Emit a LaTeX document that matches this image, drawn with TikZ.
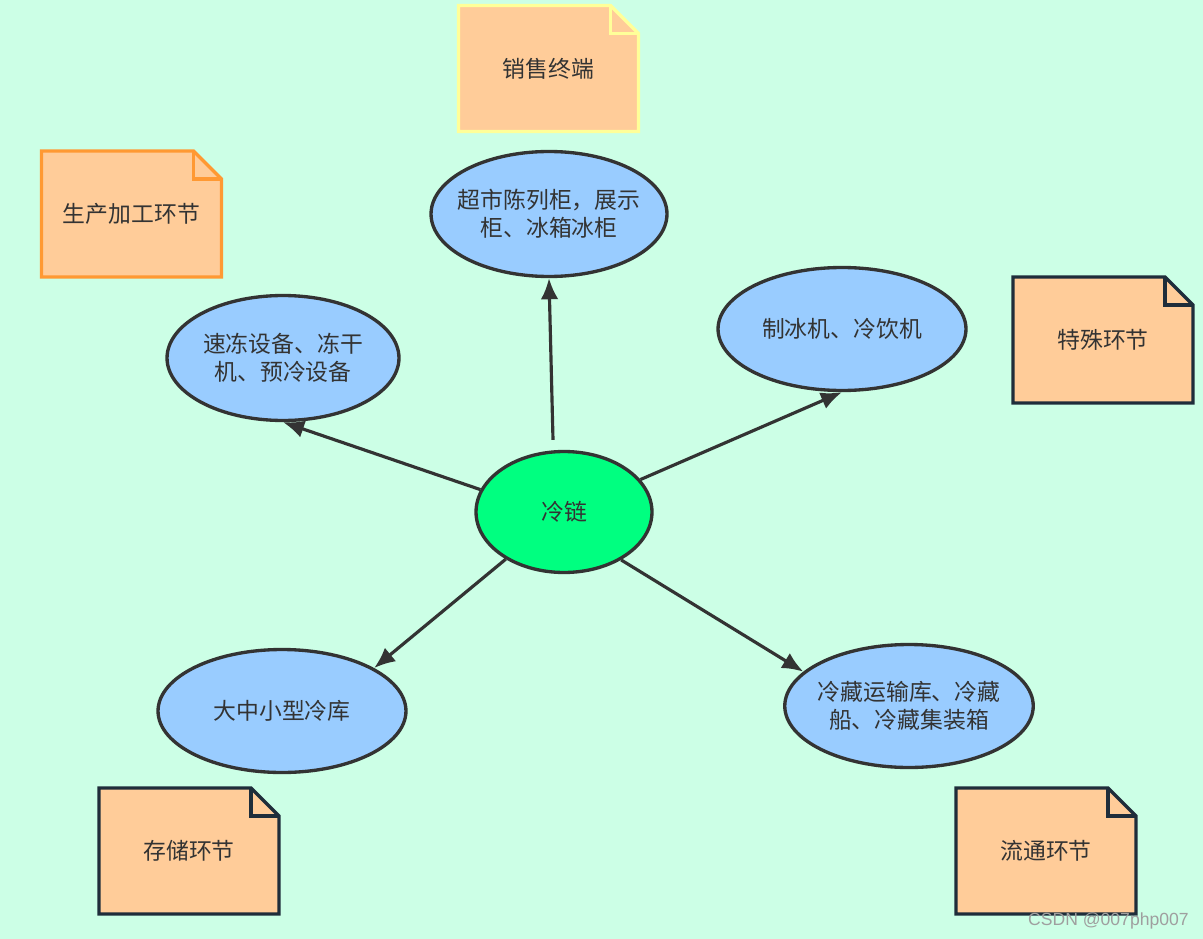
\documentclass[tikz,border=0pt]{standalone}
\usepackage{fontspec}
\newfontfamily\cjk{Noto Sans CJK SC}
\newfontfamily\wmfont{Liberation Sans}
\usetikzlibrary{shapes.geometric,arrows.meta}
\definecolor{bgc}{HTML}{CCFFE6}
\definecolor{ink}{HTML}{333333}
\definecolor{blueF}{HTML}{99CCFF}
\definecolor{greenF}{HTML}{00FF80}
\definecolor{noteF}{HTML}{FFCC99}
\definecolor{noteY}{HTML}{FFFF99}
\definecolor{noteO}{HTML}{FF9933}
\definecolor{noteD}{HTML}{1F2D3A}
\tikzset{
  txt/.style={text=ink, align=center, font=\cjk\fontsize{13}{16}\selectfont},
  bub/.style={ellipse, draw=ink, line width=1.9pt, fill=blueF, inner sep=0pt, txt,
    minimum width=4.96cm, minimum height=2.46cm},
  hub/.style={bub, fill=greenF, minimum width=3.52cm, minimum height=2.42cm},
  arr/.style={draw=ink, line width=1.8pt, -{Latex[length=12pt,width=10pt]}},
  notebox/.style={txt, inner sep=0pt, minimum width=3.6cm, minimum height=2.52cm},
}
\newcommand\mynote[5]{% name, x, y, colour, text
  \draw[line width=1.9pt, draw=#4, fill=noteF, line join=miter]
    (#2,#3) ++(-90,-63) -- ++(0,126) -- ++(180,0) -- ++(0,-98) -- ++(-28,-28) -- cycle;
  \draw[line width=1.9pt, draw=#4, line join=miter]
    (#2,#3) ++(62,-63) -- ++(0,28) -- ++(28,0);
  \node[notebox] (#1) at (#2,#3) {#5};
}
\begin{document}
\begin{tikzpicture}[x=0.02cm, y=-0.02cm]
  \fill[bgc] (0,0) rectangle (1203,939);
  \useasboundingbox (0,0) rectangle (1203,939);

  \mynote{nSale}{548.5}{68.5}{noteY}{销售终端}
  \mynote{nProd}{131.5}{214}{noteO}{生产加工环节}
  \mynote{nSpec}{1103}{340}{noteD}{特殊环节}
  \mynote{nStor}{189}{851}{noteD}{存储环节}
  \mynote{nCirc}{1046}{851}{noteD}{流通环节}

  \node[hub] (c) at (564,512) {冷链};
  \node[bub, inner xsep=-5pt, minimum width=4.72cm, minimum height=2.5cm] (t1) at (549,214) {超市陈列柜，展示\\柜、冰箱冰柜};
  \node[bub] (t2) at (842,329) {制冰机、冷饮机};
  \node[bub, minimum width=4.64cm, minimum height=2.5cm] (t3) at (283,358) {速冻设备、冻干\\机、预冷设备};
  \node[bub] (t4) at (282,711) {大中小型冷库};
  \node[bub, inner xsep=-2pt] (t5) at (909,706) {冷藏运输库、冷藏\\船、冷藏集装箱};

  \draw[arr] ([shift={(-11,-10)}]c.north) -- (t1.south);
  \draw[arr] (c.23) -- (t2.south);
  \draw[arr] (c.165) -- (t3.south);
  \draw[arr] (c.219) -- (t4.25);
  \draw[arr] (c.320) -- (t5.162);

  \node[anchor=east, text=gray!75, font=\wmfont\fontsize{10}{12}\selectfont, inner sep=0pt] (wm) at (1189,921) {CSDN @007php007};
\end{tikzpicture}
\end{document}
